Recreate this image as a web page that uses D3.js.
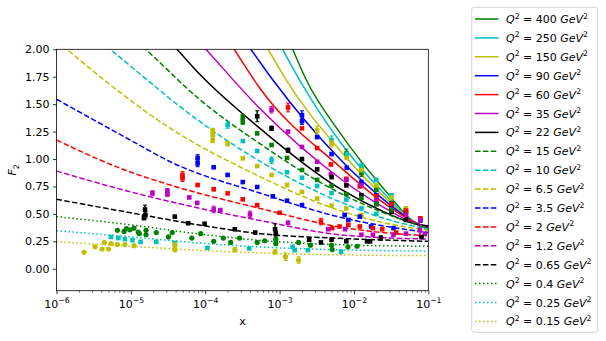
<!DOCTYPE html>
<html>
<head>
<meta charset="utf-8">
<script src="https://cdn.jsdelivr.net/npm/d3@7"></script>
<style>
body { margin: 0; background: #fff; }
text { font-family: "DejaVu Sans", sans-serif; }
</style>
</head>
<body>
<div id="chart"></div>
<script>
// Q^2 values (legend order)
var q2Labels = ["400","250","150","90","60","35","22","15","10","6.5","3.5","2","1.2","0.65","0.4","0.25","0.15"];

// fitted curves, [x, F2]
var fit400 = [[1e-3,2.28],[1.5e-3,2.0],[2.29e-3,1.72],[6.46e-3,1.24],[2.51e-2,0.73],[6.92e-2,0.41],[0.1,0.36]];
var fit250 = [[7.08e-4,2.25],[1.1e-3,2.0],[1.86e-3,1.72],[6.46e-3,1.16],[2.51e-2,0.69],[6.92e-2,0.415],[0.1,0.365]];
var fit150 = [[4.47e-4,2.24],[7.03e-4,2.0],[1.23e-3,1.72],[6.46e-3,1.08],[2.51e-2,0.66],[6.92e-2,0.415],[0.1,0.37]];
var fit90 = [[2.51e-4,2.2],[4.11e-4,2.0],[8.13e-4,1.72],[6.46e-3,1.0],[2.51e-2,0.63],[6.92e-2,0.415],[0.1,0.375]];
var fit60 = [[1.41e-4,2.25],[2.45e-4,2.0],[5.37e-4,1.65],[6.46e-3,0.93],[2.51e-2,0.60],[6.92e-2,0.415],[0.1,0.38]];
var fit35 = [[5.01e-5,2.23],[1.02e-4,2.0],[5.43e-4,1.46],[6.46e-3,0.825],[2.51e-2,0.56],[6.92e-2,0.41],[0.1,0.385]];
var fit22 = [[2.0e-5,2.23],[4.17e-5,2.0],[8.51e-5,1.77],[5.43e-4,1.28],[6.46e-3,0.73],[2.51e-2,0.52],[6.92e-2,0.405],[0.1,0.39]];
var fit15 = [[1e-5,2.12],[1.58e-5,2.0],[8.51e-5,1.54],[5.43e-4,1.14],[6.46e-3,0.69],[2.51e-2,0.51],[0.1,0.37]];
var fit10 = [[3.16e-6,2.12],[5.25e-6,2.0],[8.51e-5,1.34],[5.43e-4,0.98],[6.46e-3,0.61],[2.51e-2,0.46],[0.1,0.36]];
var fit6_5 = [[1e-6,2.08],[1.38e-6,2.0],[3.39e-5,1.28],[5.43e-4,0.84],[6.46e-3,0.53],[2.51e-2,0.42],[0.1,0.35]];
var fit3_5 = [[1e-6,1.545],[1e-5,1.17],[3.39e-5,0.975],[5.43e-4,0.69],[6.46e-3,0.47],[2.51e-2,0.39],[0.1,0.33]];
var fit2 = [[1e-6,1.173],[8.3e-6,0.90],[3.39e-5,0.763],[5.43e-4,0.55],[6.46e-3,0.38],[0.1,0.30]];
var fit1_2 = [[1e-6,0.89],[1e-5,0.70],[1e-4,0.54],[5.43e-4,0.44],[6.46e-3,0.31],[0.1,0.27]];
var fit0_65 = [[1e-6,0.633],[1e-5,0.51],[1e-4,0.39],[5.43e-4,0.32],[6.46e-3,0.277],[0.1,0.25]];
var fit0_4 = [[1e-6,0.475],[1e-5,0.40],[1e-4,0.31],[1e-3,0.245],[1e-2,0.215],[0.1,0.205]];
var fit0_25 = [[1e-6,0.347],[1e-5,0.29],[1e-4,0.23],[1e-3,0.19],[1e-2,0.17],[0.1,0.16]];
var fit0_15 = [[1e-6,0.247],[1e-5,0.205],[1e-4,0.165],[1e-3,0.138],[1e-2,0.125],[0.1,0.12]];

// measured points, [x, F2, error]
var data400 = [[7.9e-3,1.05,0.04],[1.26e-2,0.87,0.03],[2e-2,0.72,0],[3.2e-2,0.60,0],[5e-2,0.52,0],[7.8e-2,0.445,0]];
var data250 = [[5e-3,1.17,0.04],[8e-3,1.045,0],[1.26e-2,0.935,0.03],[2e-2,0.81,0],[3.2e-2,0.67,0],[5e-2,0.535,0],[7.8e-2,0.45,0]];
var data150 = [[3.2e-3,1.26,0.04],[5e-3,1.14,0.03],[8e-3,1.01,0],[1.26e-2,0.90,0],[2e-2,0.76,0],[3.2e-2,0.65,0],[5e-2,0.55,0],[7.8e-2,0.46,0]];
var data90 = [[2e-3,1.40,0.04],[2e-3,1.345,0.03],[3.2e-3,1.20,0],[5e-3,1.045,0],[8e-3,0.92,0],[1.26e-2,0.79,0],[2e-2,0.67,0],[3.2e-2,0.58,0],[5e-2,0.51,0],[7.8e-2,0.44,0]];
var data60 = [[1.3e-3,1.47,0.04],[2e-3,1.28,0],[3.2e-3,1.10,0],[4.9e-3,0.95,0],[7.9e-3,0.82,0],[1.2e-2,0.75,0],[2e-2,0.66,0],[3.2e-2,0.59,0],[5e-2,0.53,0],[7.8e-2,0.46,0]];
var data35 = [[7.8e-4,1.45,0.03],[1.3e-3,1.25,0],[2e-3,1.11,0],[3.2e-3,0.975,0],[4.9e-3,0.86,0],[7.9e-3,0.81,0],[1.26e-2,0.76,0],[2e-2,0.63,0],[3.2e-2,0.535,0],[5e-2,0.49,0],[7.8e-2,0.445,0]];
var data22 = [[5e-4,1.39,0.05],[7.8e-4,1.28,0.02],[1.3e-3,1.08,0.02],[2e-3,1.0,0],[3.2e-3,0.906,0],[5e-3,0.835,0],[7.9e-3,0.76,0],[1.26e-2,0.67,0],[2e-2,0.59,0],[3.2e-2,0.52,0],[5e-2,0.445,0]];
var data15 = [[3.2e-4,1.38,0.025],[3.2e-4,1.34,0.025],[5e-4,1.234,0],[7.8e-4,1.128,0],[1.26e-3,1.01,0],[2e-3,0.90,0],[3.2e-3,0.81,0],[5e-3,0.755,0],[7.9e-3,0.68,0],[1.26e-2,0.645,0],[2e-2,0.59,0],[3.2e-2,0.535,0]];
var data10 = [[2e-4,1.31,0.03],[3.2e-4,1.164,0],[5e-4,1.073,0],[7.8e-4,0.99,0.03],[1.26e-3,0.88,0],[2e-3,0.83,0],[3.2e-3,0.755,0],[5e-3,0.69,0],[7.9e-3,0.63,0],[1.26e-2,0.55,0],[2e-2,0.50,0]];
var data6_5 = [[1.26e-4,1.26,0.02],[1.26e-4,1.22,0.02],[1.26e-4,1.17,0.02],[2e-4,1.14,0.02],[3.2e-4,1.006,0],[5e-4,0.936,0],[7.8e-4,0.854,0],[1.26e-3,0.763,0],[2e-3,0.70,0],[3.2e-3,0.64,0],[5e-3,0.575,0],[7.9e-3,0.55,0],[1.26e-2,0.49,0]];
var data3_5 = [[7.9e-5,1.01,0.03],[7.9e-5,0.96,0.03],[1.3e-4,0.925,0],[2e-4,0.855,0],[3.2e-4,0.79,0],[5e-4,0.745,0],[8.1e-4,0.66,0],[1.26e-3,0.62,0],[2e-3,0.58,0],[7.5e-3,0.49,0],[8.4e-3,0.445,0],[1.2e-2,0.475,0],[1.7e-2,0.385,0],[3.4e-2,0.37,0]];
var data2 = [[4.95e-5,0.855,0.03],[4.95e-5,0.825,0.03],[7.9e-5,0.763,0],[1.3e-4,0.724,0],[2e-4,0.687,0],[3.2e-4,0.633,0],[5e-4,0.58,0],[1e-3,0.51,0],[3.6e-3,0.43,0.03],[5.1e-3,0.37,0],[6.4e-3,0.385,0],[8.4e-3,0.40,0],[1.2e-2,0.385,0],[1.8e-2,0.37,0],[2.4e-2,0.36,0],[3.7e-2,0.33,0]];
var data1_2 = [[1.95e-5,0.69,0.02],[3.1e-5,0.71,0.02],[3.1e-5,0.68,0.02],[6.1e-5,0.65,0],[7.8e-5,0.60,0],[1.3e-4,0.54,0.03],[1.6e-4,0.535,0],[4e-4,0.495,0.03],[1.3e-3,0.42,0],[4.5e-3,0.36,0],[7.6e-3,0.36,0],[1.26e-2,0.31,0],[1.8e-2,0.31,0],[3.4e-2,0.31,0],[5e-2,0.32,0],[7.7e-2,0.35,0.05],[9e-2,0.32,0]];
var data0_65 = [[1.55e-5,0.54,0.04],[1.57e-5,0.49,0.03],[1.5e-5,0.465,0.02],[3.9e-5,0.475,0],[5.9e-5,0.415,0],[9.8e-5,0.41,0],[2.5e-4,0.36,0],[4.7e-4,0.33,0],[8.7e-4,0.36,0.05],[8.9e-4,0.32,0.03],[2.5e-3,0.265,0],[3.6e-3,0.24,0],[5e-3,0.265,0],[7.9e-3,0.25,0],[1.5e-2,0.25,0],[1.65e-2,0.25,0],[2.3e-2,0.28,0.02],[8.1e-2,0.29,0]];
var data0_4 = [[6.6e-6,0.35,0],[8.1e-6,0.34,0],[8.7e-6,0.365,0],[9.7e-6,0.355,0],[1.1e-5,0.37,0],[1.26e-5,0.335,0],[1.3e-5,0.32,0],[1.6e-5,0.35,0],[1.6e-5,0.31,0],[2.2e-5,0.33,0],[3.2e-5,0.29,0],[3.6e-5,0.33,0],[6.6e-5,0.28,0],[8.7e-5,0.32,0],[1.3e-4,0.25,0],[1.75e-4,0.28,0],[2.2e-4,0.24,0],[2.9e-4,0.28,0],[5e-4,0.24,0],[6.3e-4,0.255,0],[8.9e-4,0.27,0.02],[8.9e-4,0.23,0.02],[1.8e-3,0.24,0],[2.6e-3,0.215,0],[5e-3,0.215,0],[5.1e-3,0.175,0],[8.3e-3,0.20,0],[1.1e-2,0.205,0]];
var data0_25 = [[5.4e-6,0.29,0],[6.8e-6,0.28,0],[8.3e-6,0.27,0],[1.05e-5,0.26,0],[1.35e-5,0.245,0],[2.2e-5,0.245,0],[3.9e-5,0.235,0.01],[1.07e-4,0.19,0],[3.9e-4,0.185,0],[1.5e-3,0.20,0.01],[1.6e-3,0.17,0.01],[2.4e-3,0.17,0],[6.7e-3,0.155,0]];
var data0_15 = [[2.35e-6,0.15,0],[3.3e-6,0.20,0],[4.1e-6,0.18,0],[4.4e-6,0.24,0],[5.0e-6,0.18,0],[5.4e-6,0.23,0],[6.6e-6,0.22,0],[8.3e-6,0.22,0],[1.1e-5,0.21,0],[3.9e-5,0.215,0.02],[3.9e-5,0.175,0.02],[2.5e-4,0.175,0.02],[8.7e-4,0.155,0.02],[1.2e-3,0.11,0.035],[1.8e-3,0.08,0.03]];

var yTicks = [0, 0.25, 0.5, 0.75, 1.0, 1.25, 1.5, 1.75, 2.0];
var xTicks = [1e-6, 1e-5, 1e-4, 1e-3, 1e-2, 1e-1];

var fits = [fit400, fit250, fit150, fit90, fit60, fit35, fit22, fit15, fit10, fit6_5, fit3_5, fit2, fit1_2, fit0_65, fit0_4, fit0_25, fit0_15];
var points = [data400, data250, data150, data90, data60, data35, data22, data15, data10, data6_5, data3_5, data2, data1_2, data0_65, data0_4, data0_25, data0_15];

// styles
var colors = ["#008000","#00bfbf","#bfbf00","#0000ff","#ff0000","#bf00bf","#000000",
              "#008000","#00bfbf","#bfbf00","#0000ff","#ff0000","#bf00bf","#000000",
              "#008000","#00bfbf","#bfbf00"];
function dashFor(i) { return i < 7 ? null : (i < 14 ? "5.5,2.4" : "1.5,2.5"); }
function isCircle(i) { return i === 14 || i === 16; }

var svgWidth = 606, svgHeight = 341;
var plot = { left: 56.5, right: 428.3, top: 49.3, bottom: 290.7 };

var svg = d3.select("#chart").append("svg")
  .attr("width", svgWidth)
  .attr("height", svgHeight);

var x = d3.scaleLog().domain([1e-6, 1e-1]).range([plot.left, plot.right]);
var y = d3.scaleLinear().domain([-0.2, 2.0]).range([plot.bottom, plot.top]);

svg.append("clipPath").attr("id", "clip")
  .append("rect")
  .attr("x", plot.left).attr("y", plot.top)
  .attr("width", plot.right - plot.left).attr("height", plot.bottom - plot.top);

var line = d3.line()
  .x(d => x(d[0]))
  .y(d => y(d[1]))
  .curve(d3.curveMonotoneX);

var plotArea = svg.append("g").attr("clip-path", "url(#clip)");

// fit curves
fits.forEach((f, i) => {
  plotArea.append("path")
    .datum(f)
    .attr("d", line)
    .attr("fill", "none")
    .attr("stroke", colors[i])
    .attr("stroke-width", 1.5)
    .attr("stroke-dasharray", dashFor(i));
});

// data points with error bars
points.forEach((pts, i) => {
  var g = plotArea.append("g");
  pts.filter(d => d[2] > 0).forEach(d => {
    var px = x(d[0]);
    g.append("line")
      .attr("x1", px).attr("x2", px)
      .attr("y1", y(d[1] - d[2])).attr("y2", y(d[1] + d[2]))
      .attr("stroke", colors[i]).attr("stroke-width", 1.5);
    [d[1] - d[2], d[1] + d[2]].forEach(v => {
      g.append("line")
        .attr("x1", px - 2).attr("x2", px + 2)
        .attr("y1", y(v)).attr("y2", y(v))
        .attr("stroke", colors[i]).attr("stroke-width", 1);
    });
  });
  if (isCircle(i)) {
    g.selectAll("circle").data(pts).enter().append("circle")
      .attr("cx", d => x(d[0])).attr("cy", d => y(d[1]))
      .attr("r", 2.6).attr("fill", colors[i]);
  } else {
    g.selectAll("rect").data(pts).enter().append("rect")
      .attr("x", d => x(d[0]) - 2.3).attr("y", d => y(d[1]) - 2.3)
      .attr("width", 4.6).attr("height", 4.6).attr("fill", colors[i]);
  }
});

// axes
var yAxis = svg.append("g")
  .attr("transform", `translate(${plot.left},0)`)
  .call(d3.axisLeft(y).tickValues(yTicks).tickSize(3.5).tickPadding(3.5).tickFormat(d3.format(".2f")));
yAxis.select(".domain").remove();
yAxis.selectAll("text").attr("font-size", "11px").attr("fill", "#000").attr("font-family", "DejaVu Sans");
yAxis.selectAll("line").attr("stroke-width", 0.8);

var minorTicks = [];
xTicks.slice(0, -1).forEach(t => { for (var k = 2; k <= 9; k++) minorTicks.push(t * k); });

var xMinor = svg.append("g")
  .attr("transform", `translate(0,${plot.bottom})`)
  .call(d3.axisBottom(x).tickValues(minorTicks).tickSize(2).tickFormat(""));
xMinor.select(".domain").remove();
xMinor.selectAll("line").attr("stroke-width", 0.6);

var xAxis = svg.append("g")
  .attr("transform", `translate(0,${plot.bottom})`)
  .call(d3.axisBottom(x).tickValues(xTicks).tickSize(3.5).tickFormat(""));
xAxis.select(".domain").remove();
xAxis.selectAll("line").attr("stroke-width", 0.8);

xAxis.selectAll(".tick").append("text")
  .attr("y", 17.5)
  .attr("text-anchor", "middle")
  .attr("font-size", "11px")
  .attr("fill", "#000")
  .each(function(d) {
    var t = d3.select(this);
    t.append("tspan").text("10");
    t.append("tspan").attr("dy", -5).attr("font-size", "7.7px")
      .text("\u2212" + Math.round(-Math.log10(d)));
  });

// frame
svg.append("rect")
  .attr("x", plot.left).attr("y", plot.top)
  .attr("width", plot.right - plot.left).attr("height", plot.bottom - plot.top)
  .attr("fill", "none").attr("stroke", "#000").attr("stroke-width", 0.8);

// axis labels
svg.append("text")
  .attr("x", (plot.left + plot.right) / 2).attr("y", 325)
  .attr("text-anchor", "middle").attr("font-size", "11px")
  .text("x");

var yLab = svg.append("text")
  .attr("transform", `translate(16,${(plot.top + plot.bottom) / 2})rotate(-90)`)
  .attr("text-anchor", "middle").attr("font-size", "11px");
yLab.append("tspan").attr("font-style", "italic").text("F");
yLab.append("tspan").attr("dy", 2.5).attr("font-size", "7.7px").text("2");

// legend
var legend = svg.append("g");
legend.append("rect")
  .attr("x", 471.7).attr("y", 7.3)
  .attr("width", 126).attr("height", 325)
  .attr("rx", 2.5)
  .attr("fill", "#fff").attr("stroke", "#cccccc").attr("stroke-width", 0.8);

q2Labels.forEach((q, i) => {
  var ly = 19 + i * 18.9;
  legend.append("line")
    .attr("x1", 475).attr("x2", 498.5)
    .attr("y1", ly).attr("y2", ly)
    .attr("stroke", colors[i]).attr("stroke-width", 1.5)
    .attr("stroke-dasharray", dashFor(i));
  var t = legend.append("text")
    .attr("x", 506).attr("y", ly + 4)
    .attr("font-size", "11px");
  t.append("tspan").attr("font-style", "italic").text("Q");
  t.append("tspan").attr("dy", -4.5).attr("font-size", "7.7px").text("2");
  t.append("tspan").attr("dy", 4.5).attr("xml:space", "preserve").text(" = " + q + " ");
  t.append("tspan").attr("font-style", "italic").text("GeV");
  t.append("tspan").attr("dy", -4.5).attr("font-size", "7.7px").text("2");
});
</script>
</body>
</html>
